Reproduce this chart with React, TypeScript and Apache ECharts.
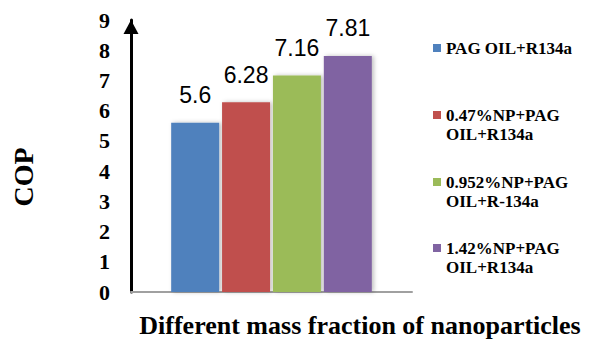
import React, { useEffect, useRef } from "react";
import * as echarts from "echarts";

const categories = ["COP"];
const seriesNames = [
  "PAG OIL+R134a",
  "0.47%NP+PAG OIL+R134a",
  "0.952%NP+PAG OIL+R-134a",
  "1.42%NP+PAG OIL+R134a",
];
// legend text split into the lines shown in the chart
const legendFirstLines = ["PAG OIL+R134a", "0.47%NP+PAG", "0.952%NP+PAG", "1.42%NP+PAG"];
const legendSecondLines = ["", "OIL+R134a", "OIL+R-134a", "OIL+R134a"];
const copValues = [5.6, 6.28, 7.16, 7.81];
const barColors = ["#4F81BD", "#C0504D", "#9BBB59", "#8064A2"];
const yMin = 0;
const yMax = 9;
const yInterval = 1;
const xAxisTitle = "Different mass fraction of nanoparticles";
const yAxisTitle = "COP";

const legendTops = [38, 105, 172, 238];
const legendLineHeight = 20;

export default function App() {
  const ref = useRef<HTMLDivElement>(null);
  useEffect(() => {
    if (!ref.current) return;
    const chart = echarts.init(ref.current, undefined, { renderer: "svg" });
    const serif = "Liberation Serif";
    const legendText = {
      color: "#000000",
      fontFamily: serif,
      fontWeight: "bold",
      fontSize: 17,
      lineHeight: legendLineHeight,
    };
    const secondLineGraphics = legendSecondLines
      .map((t, i) => ({ t, i }))
      .filter((d) => d.t)
      .map((d) => ({
        type: "text",
        x: 446,
        y: legendTops[d.i] + 9 + legendLineHeight,
        style: {
          text: d.t,
          fill: "#000000",
          fontFamily: serif,
          fontWeight: "bold",
          fontSize: 17,
          textAlign: "left",
          textVerticalAlign: "middle",
        },
      }));
    const option: any = {
      animation: false,
      backgroundColor: "#ffffff",
      grid: { left: 131, right: 183, top: 20, bottom: 48, containLabel: false },
      xAxis: {
        type: "category",
        data: categories,
        axisLine: { show: true, lineStyle: { color: "#A0A0A0", width: 2 } },
        axisTick: { show: false },
        axisLabel: { show: false },
        splitLine: { show: false },
      },
      yAxis: {
        type: "value",
        min: yMin,
        max: yMax,
        interval: yInterval,
        axisLine: {
          show: true,
          lineStyle: { color: "#000000", width: 3 },
          symbol: ["none", "triangle"],
          symbolSize: [15, 14],
          symbolOffset: [0, -7],
        },
        axisTick: { show: false },
        splitLine: { show: false },
        axisLabel: {
          color: "#000000",
          fontFamily: serif,
          fontWeight: "bold",
          fontSize: 22,
          margin: 21,
        },
      },
      legend: seriesNames.map((name, i) => ({
        data: [name],
        orient: "vertical",
        left: 433,
        top: legendTops[i],
        padding: 0,
        itemWidth: 8,
        itemHeight: 8,
        icon: "rect",
        selectedMode: false,
        formatter: () => legendFirstLines[i],
        textStyle: legendText,
      })),
      series: seriesNames.map((name, i) => ({
        name,
        type: "bar",
        data: [copValues[i]],
        barWidth: 48,
        barGap: "6%",
        itemStyle: {
          color: barColors[i],
          shadowBlur: 4,
          shadowColor: "rgba(0,0,0,0.25)",
          shadowOffsetX: 2,
          shadowOffsetY: 0,
        },
        label: {
          show: true,
          position: "top",
          distance: 16,
          color: "#000000",
          fontFamily: "Liberation Sans",
          fontSize: 23,
          formatter: (p: any) => String(p.value),
        },
      })),
      graphic: [
        {
          type: "text",
          x: 360,
          y: 325,
          style: {
            text: xAxisTitle,
            fill: "#000000",
            fontFamily: serif,
            fontWeight: "bold",
            fontSize: 26,
            textAlign: "center",
            textVerticalAlign: "middle",
          },
        },
        {
          type: "text",
          x: 23,
          y: 177,
          rotation: Math.PI / 2,
          style: {
            text: yAxisTitle,
            fill: "#000000",
            fontFamily: serif,
            fontWeight: "bold",
            fontSize: 28,
            textAlign: "center",
            textVerticalAlign: "middle",
          },
        },
        ...secondLineGraphics,
      ],
    };
    chart.setOption(option);
    return () => chart.dispose();
  }, []);
  return (
    <div
      ref={ref}
      style={{ position: "fixed", left: 0, top: 0, width: 595, height: 340 }}
    />
  );
}
